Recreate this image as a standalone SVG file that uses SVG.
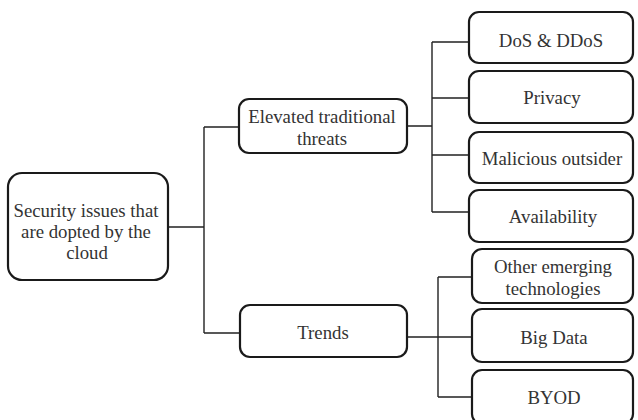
<svg xmlns="http://www.w3.org/2000/svg" width="638" height="420" viewBox="0 0 638 420">
  <style>
    .box { fill: #ffffff; stroke: #1a1a1a; stroke-width: 2.2; }
    .lbl { font-family: 'Liberation Serif', 'Times New Roman', serif; font-size: 18.8px; fill: #333333; text-anchor: middle; }
    .wire { fill: none; stroke: #222222; stroke-width: 1.4; }
  </style>
  <rect width="638" height="420" fill="#ffffff"/>

  <!-- connectors -->
  <g id="connectors">
    <path class="wire" d="M168 227 H204 M204 127 V333 M204 127 H239 M204 333 H240"/>
    <path class="wire" d="M407 126 H432 M432 42 V212 M432 42 H469 M432 98 H469 M432 155 H469 M432 212 H469"/>
    <path class="wire" d="M407 337 H438 M438 277 V397 M438 277 H472 M438 337 H472 M438 397 H472"/>
  </g>

  <g id="root">
    <rect class="box" x="8" y="173" width="160" height="107" rx="14"/>
    <text class="lbl" x="86" y="217">Security issues that</text>
    <text class="lbl" x="86" y="238">are dopted by the</text>
    <text class="lbl" x="87" y="259">cloud</text>
  </g>

  <g id="elevated">
    <rect class="box" x="239" y="99" width="168" height="54" rx="10"/>
    <text class="lbl" x="322" y="123">Elevated traditional</text>
    <text class="lbl" x="322" y="145">threats</text>
  </g>

  <g id="trends">
    <rect class="box" x="240" y="305" width="167" height="52" rx="10"/>
    <text class="lbl" x="323" y="339">Trends</text>
  </g>

  <g id="dos">
    <rect class="box" x="469" y="12" width="164" height="51" rx="10"/>
    <text class="lbl" x="551" y="47">DoS &amp; DDoS</text>
  </g>

  <g id="privacy">
    <rect class="box" x="469" y="71" width="164" height="52" rx="10"/>
    <text class="lbl" x="552" y="104">Privacy</text>
  </g>

  <g id="malicious">
    <rect class="box" x="469" y="132" width="164" height="51" rx="10"/>
    <text class="lbl" x="552" y="165">Malicious outsider</text>
  </g>

  <g id="availability">
    <rect class="box" x="469" y="190" width="164" height="52" rx="10"/>
    <text class="lbl" x="553" y="223">Availability</text>
  </g>

  <g id="emerging">
    <rect class="box" x="472" y="249" width="161" height="54" rx="10"/>
    <text class="lbl" x="553" y="273">Other emerging</text>
    <text class="lbl" x="553" y="295">technologies</text>
  </g>

  <g id="bigdata">
    <rect class="box" x="472" y="309" width="161" height="53" rx="10"/>
    <text class="lbl" x="554" y="344">Big Data</text>
  </g>

  <g id="byod">
    <rect class="box" x="472" y="370" width="161" height="54" rx="10"/>
    <text class="lbl" x="554" y="404">BYOD</text>
  </g>
</svg>
